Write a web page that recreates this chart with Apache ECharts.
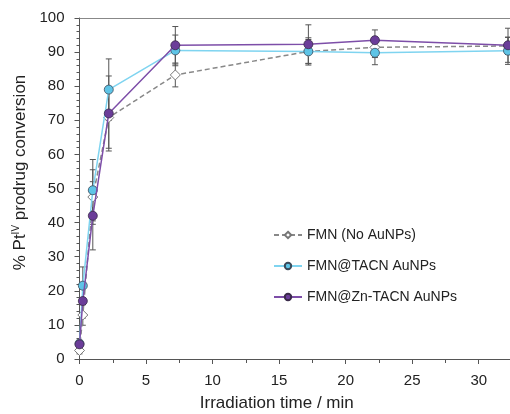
<!DOCTYPE html>
<html>
<head>
<meta charset="utf-8">
<script src="https://cdn.jsdelivr.net/npm/echarts@6/dist/echarts.min.js"></script>
<style>html,body{margin:0;padding:0;background:#fff}#c{width:510px;height:414px}</style>
</head>
<body>
<div id="c"></div>
<script>
var times = [0, 0.25, 1, 2.2, 7.2, 17.2, 22.2, 32.2];
var fmn = [2.5, 12.9, 47.5, 70.8, 83.3, 90.2, 91.4, 91.8];
var fmnErr = [1, 3, 8, 9, 3.5, 3.5, 3, 2.5];
var tacn = [4.5, 21.5, 49.5, 79, 90.5, 90.2, 89.8, 90.4];
var tacnErr = [1, 5.5, 9, 9, 4.5, 4, 3.5, 4];
var zn = [4.3, 17, 42, 72, 92, 92.3, 93.5, 92];
var znErr = [1, 5, 10, 11, 5.5, 5.7, 3, 5];
var names = ['FMN (No AuNPs)', 'FMN@TACN AuNPs', 'FMN@Zn-TACN AuNPs'];

function pts(v) { return times.map(function (t, i) { return [t, v[i]]; }); }
function errPts(v, e) { return times.map(function (t, i) { return [t, v[i], e[i]]; }); }

function errSeries(v, e) {
  return {
    type: 'custom',
    silent: true,
    z: 1,
    data: errPts(v, e),
    renderItem: function (params, api) {
      var x = api.value(0), y = api.value(1), d = api.value(2);
      var top = api.coord([x, y + d]);
      var bot = api.coord([x, y - d]);
      var w = 3;
      var st = { stroke: '#555', lineWidth: 1 };
      return {
        type: 'group',
        children: [
          { type: 'line', shape: { x1: top[0], y1: top[1], x2: bot[0], y2: bot[1] }, style: st },
          { type: 'line', shape: { x1: top[0] - w, y1: top[1], x2: top[0] + w, y2: top[1] }, style: st },
          { type: 'line', shape: { x1: bot[0] - w, y1: bot[1], x2: bot[0] + w, y2: bot[1] }, style: st }
        ]
      };
    }
  };
}

var chart = echarts.init(document.getElementById('c'));
var font = 'Liberation Sans, Arial, sans-serif';
chart.setOption({
  animation: false,
  textStyle: { fontFamily: font },
  grid: { left: 79.5, right: 0, top: 18, bottom: 55, containLabel: false, outerBoundsMode: 'none' },
  legend: {
    orient: 'vertical',
    left: 268,
    top: 223,
    itemGap: 17,
    itemWidth: 28,
    itemHeight: 8,
    textStyle: { fontSize: 14, color: '#222', fontFamily: font },
    data: names
  },
  xAxis: [{
    type: 'value', min: 0, max: 32.35, interval: 5,
    name: 'Irradiation time / min', nameLocation: 'middle', nameGap: 36,
    nameTextStyle: { fontSize: 17, color: '#222', padding: [0, 36, 0, 0] },
    axisLine: { lineStyle: { color: '#555' } },
    axisTick: { show: true, length: 5, lineStyle: { color: '#555' } },
    minorTick: { show: true, splitNumber: 2, length: 4, lineStyle: { color: '#555' } },
    axisLabel: { fontSize: 15, color: '#222', margin: 14, showMaxLabel: false },
    splitLine: { show: false }
  }, {
    type: 'value', position: 'top', min: 0, max: 32.35,
    axisLine: { show: true, lineStyle: { color: '#888' } },
    axisTick: { show: false }, axisLabel: { show: false }, splitLine: { show: false }
  }],
  yAxis: {
    type: 'value', min: 0, max: 100, interval: 10,
    name: '% Pt{sup|IV} prodrug conversion', nameLocation: 'middle', nameGap: 47, nameRotate: 90,
    nameTextStyle: {
      fontSize: 17, color: '#222', padding: [0, 0, 0, 32],
      rich: { sup: { fontSize: 10, verticalAlign: 'top', color: '#222', padding: [0, 0, 8, 0] } }
    },
    axisLine: { show: true, lineStyle: { color: '#555' } },
    axisTick: { show: true, length: 5, lineStyle: { color: '#555' } },
    minorTick: { show: true, splitNumber: 5, length: 3, lineStyle: { color: '#555' } },
    axisLabel: { fontSize: 15, color: '#222', margin: 15 },
    splitLine: { show: false }
  },
  series: [
    errSeries(fmn, fmnErr),
    errSeries(tacn, tacnErr),
    errSeries(zn, znErr),
    {
      name: names[0], type: 'line', data: pts(fmn), z: 3,
      symbol: 'diamond', symbolSize: 10,
      lineStyle: { color: '#888', width: 1.5, type: [5, 3] },
      itemStyle: { color: '#fff', borderColor: '#777', borderWidth: 1 }
    },
    {
      name: names[1], type: 'line', data: pts(tacn), z: 4,
      symbol: 'circle', symbolSize: 9,
      lineStyle: { color: '#7fd4f0', width: 1.5 },
      itemStyle: { color: '#5ec4e6', borderColor: '#3a4a5a', borderWidth: 0.8 }
    },
    {
      name: names[2], type: 'line', data: pts(zn), z: 5,
      symbol: 'circle', symbolSize: 9,
      lineStyle: { color: '#7d4ea8', width: 1.5 },
      itemStyle: { color: '#6b3d99', borderColor: '#3a2a4a', borderWidth: 0.8 }
    }
  ]
});
</script>
</body>
</html>
